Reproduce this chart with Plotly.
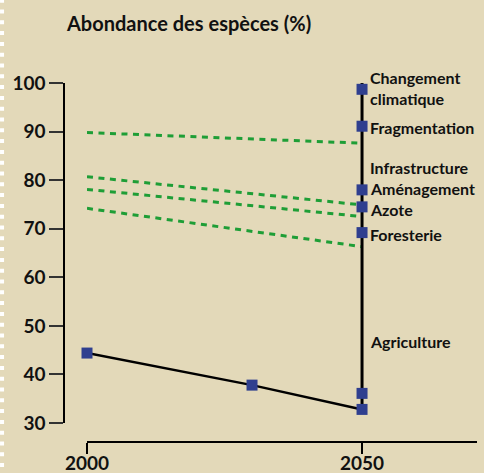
import plotly.graph_objects as go

# --- data ---
years_agri = [2000, 2030, 2050]
abund_agri = [44.4, 37.8, 32.8]

pressure_labels = ["Changement<br>climatique", "Fragmentation", "Infrastructure",
                   "Aménagement", "Azote", "Foresterie", "Agriculture"]
label_values = [98.9, 90.9, 82.7, 78.2, 74.0, 68.8, 46.7]

marker_year = 2050
marker_values = [98.7, 91.1, 78.0, 74.5, 69.2, 36.1, 32.8]

vertical_range = [32.8, 100]

green_starts = [89.8, 80.7, 78.1, 74.2]
green_ends = [87.6, 74.9, 72.5, 66.3]
green_years = [2000, 2050]

y_ticks = [30, 40, 50, 60, 70, 80, 90, 100]
x_ticks = [2000, 2050]

BG = "#e3d9b9"
FONT = "Lato"

fig = go.Figure()

for s, e in zip(green_starts, green_ends):
    fig.add_trace(go.Scatter(x=green_years, y=[s, e], mode="lines",
                             line=dict(color="#1e9e36", width=3, dash="6px,5.5px"),
                             hoverinfo="skip", showlegend=False, cliponaxis=False))

fig.add_trace(go.Scatter(x=years_agri, y=abund_agri, mode="lines",
                         line=dict(color="black", width=2.5), showlegend=False,
                         cliponaxis=False))
fig.add_trace(go.Scatter(x=[marker_year, marker_year], y=vertical_range, mode="lines",
                         line=dict(color="black", width=3), showlegend=False,
                         cliponaxis=False))

fig.add_trace(go.Scatter(x=[years_agri[0], years_agri[1]], y=[abund_agri[0], abund_agri[1]],
                         mode="markers", cliponaxis=False,
                         marker=dict(symbol="square", size=11, color="#2f3f8f"),
                         showlegend=False))
fig.add_trace(go.Scatter(x=[marker_year] * len(marker_values), y=marker_values,
                         mode="markers", cliponaxis=False,
                         marker=dict(symbol="square", size=11, color="#2f3f8f"),
                         showlegend=False))

for lab, v in zip(pressure_labels, label_values):
    fig.add_annotation(x=marker_year, y=v, text=lab, showarrow=False,
                       xanchor="left", xshift=6, align="left",
                       font=dict(family=FONT, size=16, color="#111", weight=700))

fig.add_annotation(xref="paper", yref="paper", x=0.0, y=1.0, yshift=60,
                   text="Abondance des espèces (%)", showarrow=False,
                   xanchor="left", yanchor="middle",
                   font=dict(family=FONT, size=20, color="#111", weight=700))

# decorative dotted left border
fig.add_shape(type="line", xref="paper", yref="paper", x0=-0.1500, x1=-0.1500,
              y0=-0.1, y1=1.25, line=dict(color="white", width=4, dash="4px,6.8px"))

fig.update_layout(
    width=484, height=473,
    margin=dict(l=64, r=7, t=83, b=31, autoexpand=False),
    paper_bgcolor=BG, plot_bgcolor=BG,
    xaxis=dict(domain=[0.0557, 1], range=[2000, 2070.9], anchor="free", position=0,
               showgrid=False, zeroline=False, showline=True, linecolor="black",
               linewidth=1.5, ticks="outside", ticklen=11, tickwidth=1.5,
               tickcolor="black", tickvals=x_ticks, ticktext=[str(t) for t in x_ticks],
               ticklabelstandoff=-7,
               tickfont=dict(family=FONT, size=19, color="#111", weight=700)),
    yaxis=dict(domain=[0.0529, 1], range=[30, 100], anchor="free", position=0,
               showgrid=False, zeroline=False, showline=True, linecolor="black",
               linewidth=1.5, ticks="outside", ticklen=14, tickwidth=1.5,
               tickcolor="#333", tickvals=y_ticks,
               tickfont=dict(family=FONT, size=19, color="#111", weight=700)),
)

fig.write_html("out.html", config={"displayModeBar": False},
               post_script="document.body.style.margin='0';document.body.style.background='%s';" % BG)
